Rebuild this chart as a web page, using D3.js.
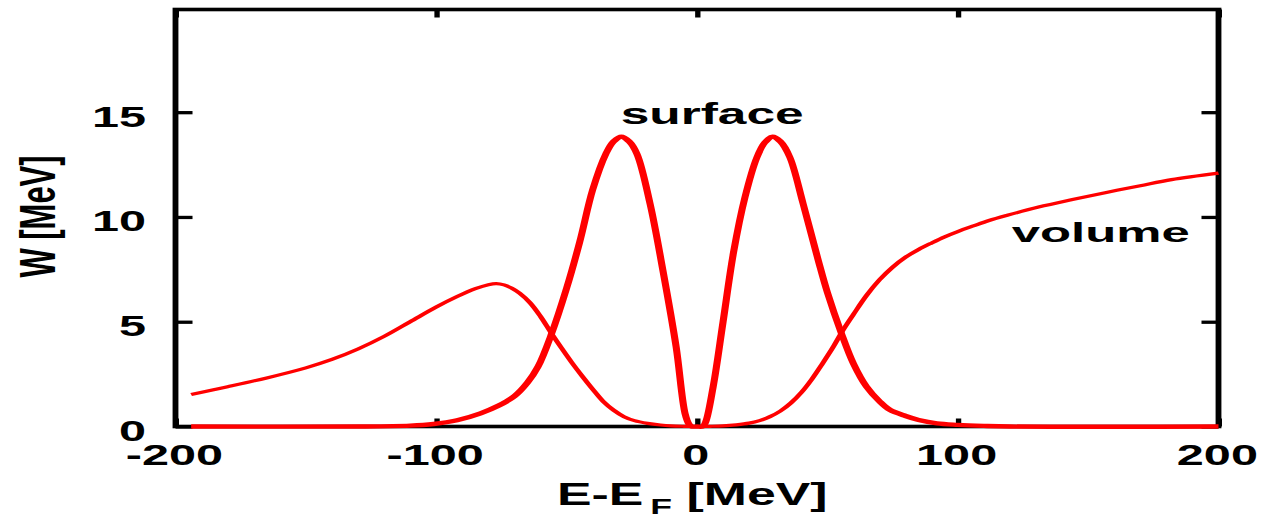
<!DOCTYPE html>
<html>
<head>
<meta charset="utf-8">
<script src="https://cdn.jsdelivr.net/npm/d3@7"></script>
<style>
  html, body { margin: 0; padding: 0; background: #fff; }
  svg { display: block; }
  text { font-family: "Liberation Sans", Arial, Helvetica, sans-serif; font-weight: bold; fill: #000; }
</style>
</head>
<body>
<svg id="chart" width="1264" height="517"></svg>
<script>
// Imaginary part of the optical potential vs. energy relative to the Fermi energy
const volumeE = [-194, -180, -165, -150, -140, -130, -120, -110, -100, -92, -85, -80, -77, -74, -71, -68, -64, -60, -56, -52, -48, -44, -40, -36, -32, -28, -24, -19, -14, -10, -5, 0,
                 5, 10, 15, 20, 24, 28, 32, 36, 40, 44, 48, 52, 56, 60, 65, 70, 75, 80, 85, 90, 95, 100, 106, 112, 119, 131, 144, 157, 170, 182, 200];
const volumeW = [1.53, 1.90, 2.32, 2.80, 3.20, 3.70, 4.30, 5.00, 5.70, 6.20, 6.58, 6.77, 6.82, 6.76, 6.60, 6.36, 5.90, 5.25, 4.48, 3.75, 3.05, 2.40, 1.78, 1.20, 0.78, 0.47, 0.28, 0.15, 0.07, 0.03, 0.01, 0,
                 0.01, 0.03, 0.08, 0.16, 0.28, 0.47, 0.74, 1.12, 1.62, 2.25, 2.98, 3.75, 4.60, 5.35, 6.25, 7.00, 7.60, 8.08, 8.45, 8.76, 9.05, 9.30, 9.57, 9.83, 10.08, 10.47, 10.83, 11.17, 11.49, 11.78, 12.09];

const surfaceE = [-194, -130, -110, -101, -92, -83, -76, -70, -65, -61, -56, -50, -45, -40, -35, -32, -29, -26, -23, -18, -13, -8, -4.6, -3, -2, 0,
                  2, 3.1, 6.2, 10, 14, 18.4, 23, 26, 29, 32, 35.6, 40.7, 46.5, 50, 55.4, 60, 65, 70, 74, 80, 85, 92, 100, 110, 120, 200];
const surfaceW = [0, 0, 0.04, 0.12, 0.30, 0.63, 1.00, 1.45, 2.10, 2.85, 4.35, 6.60, 8.80, 11.30, 13.00, 13.60, 13.83, 13.60, 13.00, 10.63, 7.40, 3.80, 0.63, 0.10, 0, 0,
                  0, 0.15, 1.90, 5.00, 8.30, 10.94, 12.85, 13.55, 13.83, 13.60, 12.85, 10.63, 7.93, 6.40, 4.44, 3.00, 1.90, 1.20, 0.79, 0.50, 0.31, 0.15, 0.08, 0.03, 0, 0];

const xTicks = [-200, -100, 0, 100, 200];
const xTickLabels = ["-200", "-100", "0", "100", "200"];
const yTicks = [0, 5, 10, 15];
const yTickLabels = ["0", "5", "10", "15"];

const xDomain = [-200, 200];
const yDomain = [0, 19.9];

const xTitle = ["E-E", "F", " [MeV]"];
const yTitle = "W [MeV]";
const curveLabels = ["surface", "volume"];

// Layout: everything is drawn in a horizontally stretched frame
const sx = 1.62;
const plotLeft = 175.5, plotRight = 1218.5, plotTop = 9.5, plotBottom = 426.5;

const svg = d3.select("#chart");
const g = svg.append("g").attr("transform", `scale(${sx},1)`);

const x = d3.scaleLinear().domain(xDomain).range([plotLeft / sx, plotRight / sx]);
const y = d3.scaleLinear().domain(yDomain).range([plotBottom, plotTop]);

// plot frame
g.append("rect")
  .attr("x", x(xDomain[0])).attr("y", y(yDomain[1]))
  .attr("width", x(xDomain[1]) - x(xDomain[0]))
  .attr("height", y(yDomain[0]) - y(yDomain[1]))
  .attr("fill", "none").attr("stroke", "#000").attr("stroke-width", 3.6);

function styleAxis(sel) {
  sel.select(".domain").remove();
  sel.selectAll(".tick line").attr("stroke", "#000").attr("stroke-width", 3.3);
  sel.attr("font-family", null).attr("font-size", null);
  sel.selectAll("text").attr("font-size", 30).attr("fill", "#000");
}

const xLab = d => xTickLabels[xTicks.indexOf(d)];
const yLab = d => yTickLabels[yTicks.indexOf(d)];

g.append("g").attr("transform", `translate(0,${plotBottom})`)
  .call(d3.axisBottom(x).tickValues(xTicks).tickFormat(xLab).tickSize(-8).tickPadding(17.5))
  .call(styleAxis)
  .call(s => s.selectAll("text").attr("dx", -1.2));

g.append("g").attr("transform", `translate(0,${plotTop})`)
  .call(d3.axisTop(x).tickValues(xTicks).tickFormat("").tickSize(-8))
  .call(styleAxis);

g.append("g").attr("transform", `translate(${plotLeft / sx},0)`)
  .call(d3.axisLeft(y).tickValues(yTicks).tickFormat(yLab).tickSize(-10.5).tickPadding(18.2))
  .call(styleAxis)
  .call(s => s.selectAll("text").attr("dy", 14));

g.append("g").attr("transform", `translate(${plotRight / sx},0)`)
  .call(d3.axisRight(y).tickValues(yTicks).tickFormat("").tickSize(-10.5))
  .call(styleAxis);

// curves
const line = d3.line()
  .x(d => x(d[0]))
  .y(d => y(Math.max(0, d[1])))
  .curve(d3.curveCatmullRom.alpha(0.5));

g.append("path")
  .datum(volumeE.map((e, i) => [e, volumeW[i]]))
  .attr("d", line).attr("fill", "none")
  .attr("stroke", "#ff0000").attr("stroke-width", 3.2).attr("stroke-linejoin", "round");

g.append("path")
  .datum(surfaceE.map((e, i) => [e, surfaceW[i]]))
  .attr("d", line).attr("fill", "none")
  .attr("stroke", "#ff0000").attr("stroke-width", 4.4).attr("stroke-linejoin", "round");

// curve labels
g.append("text")
  .attr("x", 620.7 / sx).attr("y", 124)
  .attr("font-size", 29)
  .attr("textLength", 183 / sx).attr("lengthAdjust", "spacingAndGlyphs")
  .text(curveLabels[0]);

g.append("text")
  .attr("x", 1011.7 / sx).attr("y", 241.7)
  .attr("font-size", 28)
  .attr("textLength", 178 / sx).attr("lengthAdjust", "spacingAndGlyphs")
  .text(curveLabels[1]);

// axis titles
const xt = g.append("text")
  .attr("x", 557 / sx).attr("y", 505)
  .attr("font-size", 32);
xt.append("tspan").text(xTitle[0]);
xt.append("tspan").attr("font-size", 22).attr("dx", 4.3).attr("dy", 9).text(xTitle[1]);
xt.append("tspan").attr("dy", -9).text(xTitle[2]);

g.append("text")
  .attr("transform", `translate(${55 / sx},216.5) rotate(-90)`)
  .attr("font-size", 31)
  .attr("text-anchor", "middle")
  .text(yTitle);
</script>
</body>
</html>
